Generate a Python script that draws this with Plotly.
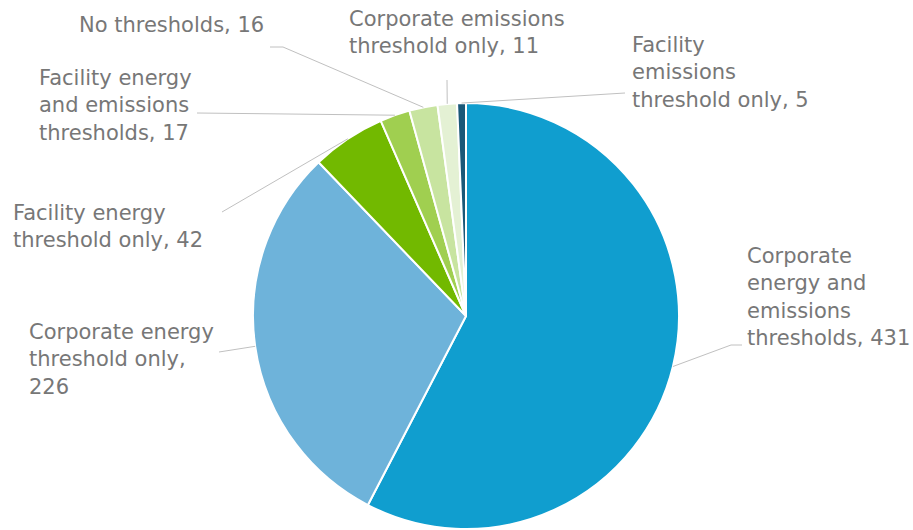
import math
import plotly.graph_objects as go

labels = [
    "Corporate energy and emissions thresholds",
    "Corporate energy threshold only",
    "Facility energy threshold only",
    "Facility energy and emissions thresholds",
    "No thresholds",
    "Corporate emissions threshold only",
    "Facility emissions threshold only",
]
values = [431, 226, 42, 17, 16, 11, 5]
colors = ["#109ecf", "#6eb3da", "#72b900", "#a0cf50", "#c8e4a0", "#e4f1d4", "#1a5878"]
label_texts = [
    "Corporate<br>energy and<br>emissions<br>thresholds, 431",
    "Corporate energy<br>threshold only,<br>226",
    "Facility energy<br>threshold only, 42",
    "Facility energy<br>and emissions<br>thresholds, 17",
    "No thresholds, 16",
    "Corporate emissions<br>threshold only, 11",
    "Facility<br>emissions<br>threshold only, 5",
]

W, H = 913, 530
CX, CY, R = 466, 316, 213

# label placement (screen pixels): anchor x, middle y, xanchor
label_pos = [
    (745, 297, "left"),
    (27, 359, "left"),
    (11, 226, "left"),
    (37, 105, "left"),
    (266, 25, "right"),
    (347, 33, "left"),
    (630, 73, "left"),
]
# leader line path after the pie edge point (screen pixels)
leader_tail = [
    [(731, 345), (742, 345)],
    [(219, 352)],
    [(222, 212)],
    [(197, 113)],
    [(283, 47), (270, 47)],
    [(447, 80)],
    [(625, 93)],
]

def px(x, y):
    return x / W, 1 - y / H

dx0, dy1 = px(CX - R, CY - R)
dx1, dy0 = px(CX + R, CY + R)
fig = go.Figure(go.Pie(
    labels=labels, values=values, sort=False, direction="clockwise", rotation=0,
    marker=dict(colors=colors, line=dict(color="white", width=2)),
    textinfo="none", hoverinfo="label+value", showlegend=False,
    domain=dict(x=[dx0, dx1], y=[max(dy0, 0), dy1]),
))

total = sum(values)
cum = 0
shapes = []
annotations = []
for i, v in enumerate(values):
    mid = (cum + v / 2) / total * 2 * math.pi
    cum += v
    ex = CX + R * math.sin(mid)
    ey = CY - R * math.cos(mid)
    pts = [(ex, ey)] + leader_tail[i]
    path = ""
    for j, (x, y) in enumerate(pts):
        X, Y = px(x, y)
        path += ("M" if j == 0 else "L") + f"{X},{Y} "
    shapes.append(dict(type="path", xref="paper", yref="paper", path=path.strip(),
                       line=dict(color="#c0c0c0", width=1)))
    lx, ly, xa = label_pos[i]
    X, Y = px(lx, ly)
    annotations.append(dict(text=label_texts[i], x=X, y=Y, xref="paper", yref="paper",
                            xanchor=xa, yanchor="middle", align="left", showarrow=False,
                            font=dict(family="DejaVu Sans", size=21, color="#777777")))

fig.update_layout(
    width=W, height=H, margin=dict(l=0, r=0, t=0, b=0),
    paper_bgcolor="white", plot_bgcolor="white",
    shapes=shapes, annotations=annotations,
)
fig.write_html(
    "out.html",
    config={"displayModeBar": False},
    post_script="document.body.style.margin='0';document.body.style.overflow='hidden';",
)
